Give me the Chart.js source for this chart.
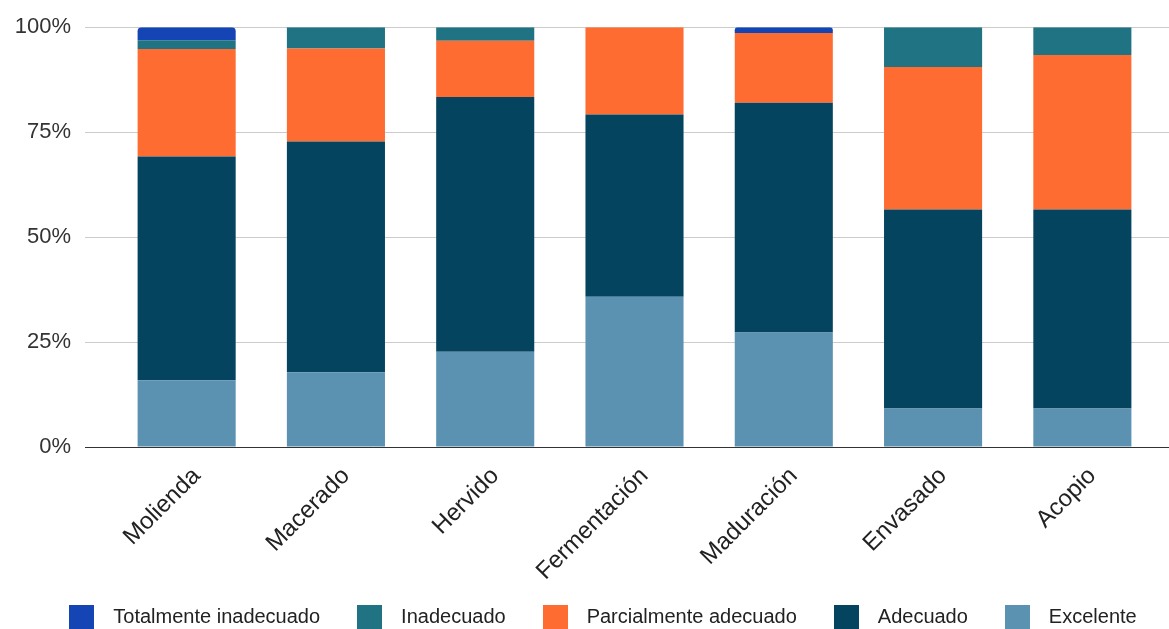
<!DOCTYPE html>
<html lang="es">
<head>
<meta charset="utf-8">
<title>Evaluación por etapa</title>
<script src="https://cdn.jsdelivr.net/npm/chart.js@4.4.1/dist/chart.umd.min.js"></script>
<style>
  html, body { margin: 0; padding: 0; background: #fff; }
  #wrap { width: 1169px; height: 629px; position: relative; }
</style>
</head>
<body>
<div id="wrap"><canvas id="chart"></canvas></div>
<script>
// ====== Datos ======
const etapas = ['Molienda', 'Macerado', 'Hervido', 'Fermentación', 'Maduración', 'Envasado', 'Acopio'];

// porcentaje de respuestas por etapa (cada columna suma 100)
const excelente    = [15.9, 17.8, 22.7, 35.8, 27.3,  9.2,  9.2];
const adecuado     = [53.3, 55.0, 60.7, 43.4, 54.7, 47.4, 47.4];
const parcialmente = [25.6, 22.1, 13.4, 20.8, 16.6, 33.9, 36.8];
const inadecuado   = [ 2.1,  5.1,  3.2,  0,    0,    9.5,  6.6];
const totalmente   = [ 3.1,  0,    0,    0,    1.4,  0,    0  ];

const yTicks = [0, 25, 50, 75, 100];

// ====== Estilos ======
Chart.defaults.font.family = "'Liberation Sans', Arial, sans-serif";
Chart.defaults.color = '#333';

const gridColor = c => (c.tick && c.tick.value === 0) ? '#333' : '#cccccc';
const setTicks = s => { s.ticks = yTicks.map(v => ({ value: v })); };

// cuadrito de color para la leyenda
function swatch(color) {
    const c = document.createElement('canvas');
    c.width = 25; c.height = 24;
    const g = c.getContext('2d');
    g.fillStyle = color;
    g.fillRect(0, 0, 25, 24);
    return c;
}

const serie = (label, data, color, extra) => Object.assign({
    label, data, backgroundColor: color, borderWidth: 0,
    categoryPercentage: 1, barPercentage: 0.657
}, extra || {});

// las etiquetas rotadas no se recortan al alto del eje
const sinRecorte = {
    id: 'sinRecorte',
    afterLayout(chart) {
        chart.scales.x.bottom = chart.height;
        chart.legend.left += 14;
        chart.legend.right += 14;
    }
};

new Chart(document.getElementById('chart'), {
    type: 'bar',
    data: {
        labels: etapas,
        // el primero queda abajo en la pila
        datasets: [
            serie('Excelente', excelente, '#5b91b1'),
            serie('Adecuado', adecuado, '#05445f'),
            serie('Parcialmente adecuado', parcialmente, '#ff6c31'),
            serie('Inadecuado', inadecuado, '#1f7383'),
            serie('Totalmente inadecuado', totalmente, '#1544b4', {
                borderRadius: { topLeft: 4, topRight: 4, bottomLeft: 0, bottomRight: 0 },
                borderSkipped: false
            })
        ]
    },
    plugins: [sinRecorte],
    options: {
        responsive: true,
        maintainAspectRatio: false,
        animation: false,
        // la leyenda queda pegada al borde inferior
        layout: { padding: { top: 23, left: 0, right: 0, bottom: -8 } },
        plugins: {
            tooltip: { enabled: false },
            legend: {
                position: 'bottom',
                reverse: true,
                labels: {
                    usePointStyle: true,
                    pointStyleWidth: 43,
                    padding: 28,
                    font: { size: 20 }, color: '#222',
                    generateLabels: chart => Chart.defaults.plugins.legend.labels.generateLabels(chart)
                        .map(item => Object.assign(item, { pointStyle: swatch(item.fillStyle) }))
                }
            }
        },
        scales: {
            x: {
                stacked: true,
                z: 1,
                grid: { display: false },
                border: { display: true, color: '#333', width: 1 },
                ticks: { minRotation: 45, maxRotation: 45, font: { size: 24 }, color: '#222', padding: 7, labelOffset: 10 },
                afterFit: s => { s.height = 132; }
            },
            y: {
                stacked: true,
                min: 0, max: 100,
                afterBuildTicks: setTicks,
                afterFit: s => { s.width = 112; },
                border: { display: false },
                grid: { color: gridColor, tickColor: gridColor, tickLength: 27 },
                ticks: { font: { size: 22 }, color: '#333', padding: 14, callback: v => v + '%' }
            },
            // sólo prolonga las líneas guía por la derecha
            yRight: {
                position: 'right',
                min: 0, max: 100,
                afterBuildTicks: setTicks,
                afterFit: s => { s.width = 12; },
                border: { display: false },
                grid: { drawOnChartArea: false, color: gridColor, tickColor: gridColor, tickLength: 12 },
                ticks: { display: false }
            }
        }
    }
});
</script>
</body>
</html>
